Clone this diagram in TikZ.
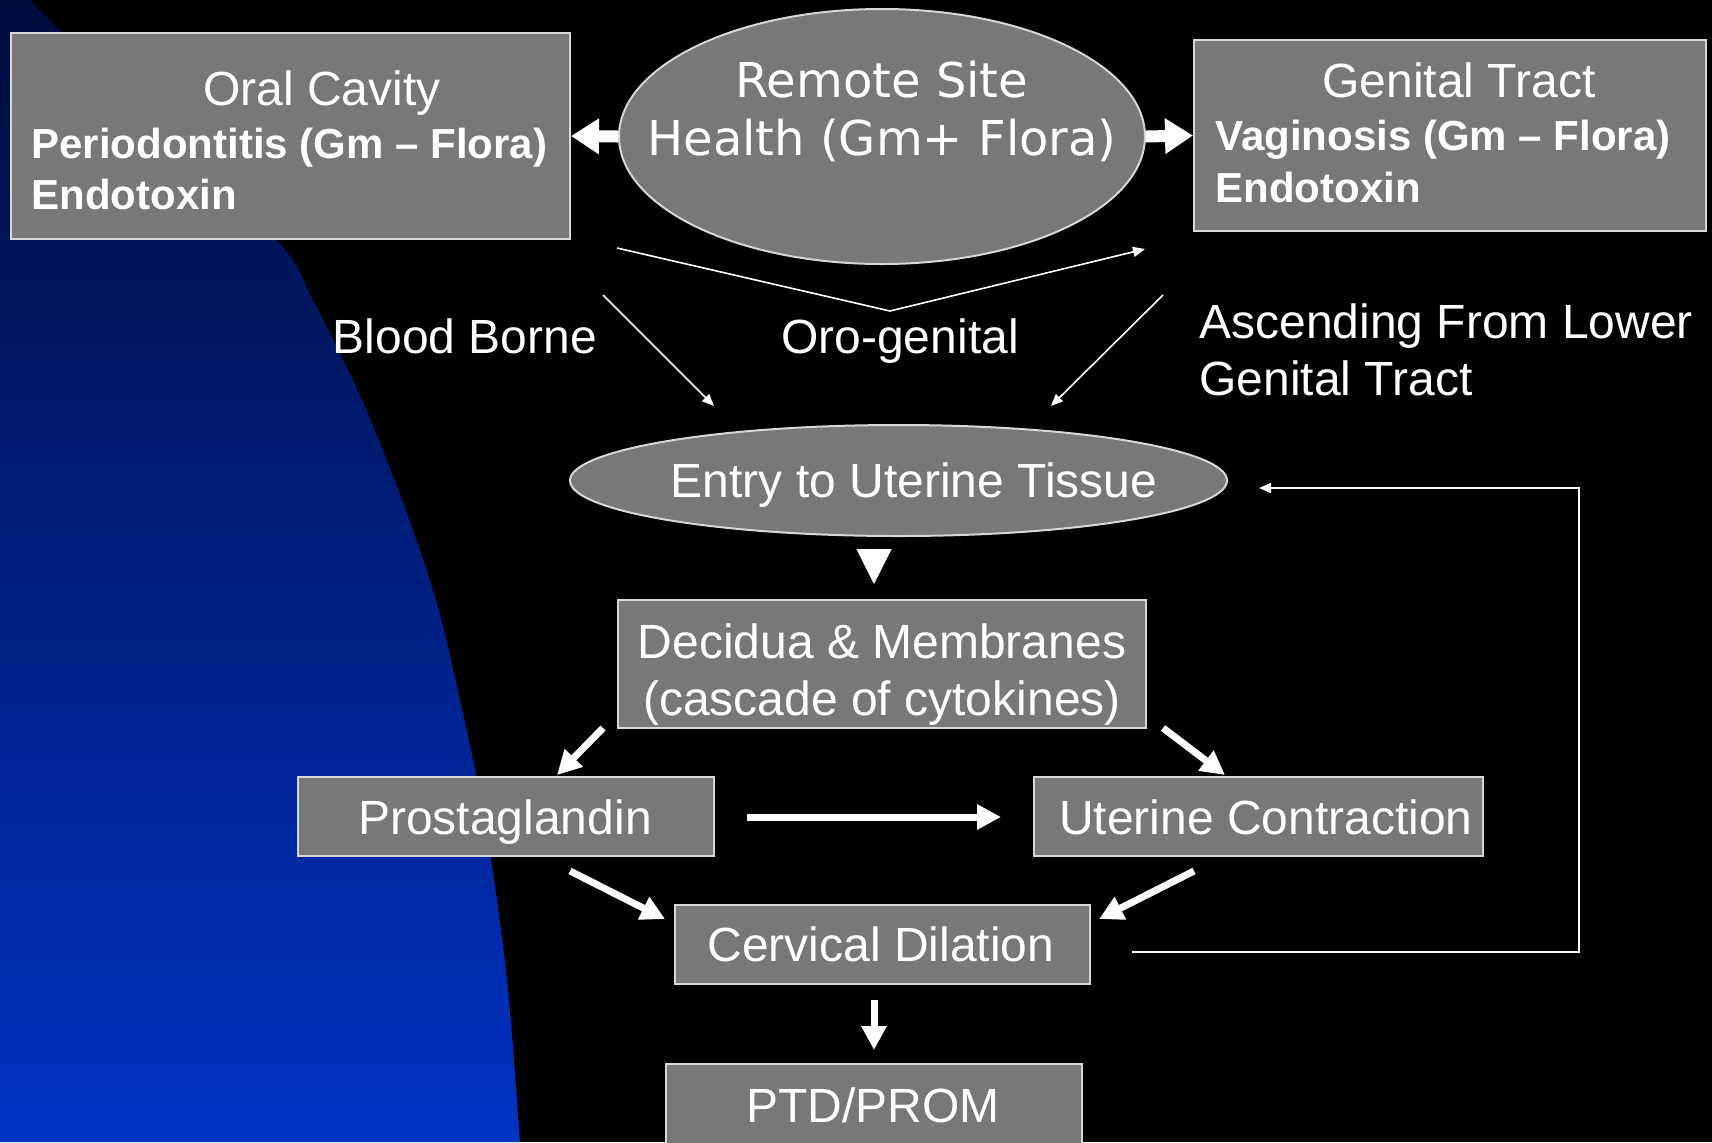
\documentclass[tikz,border=0pt]{standalone}
\usepackage{fontspec}
\setmainfont{Liberation Sans}
\newfontfamily\remfont{DejaVu Sans}
\usetikzlibrary{arrows.meta,shapes.geometric}
\definecolor{boxgray}{RGB}{120,120,120}
\definecolor{edgegray}{RGB}{215,215,215}
\definecolor{navytop}{RGB}{0,12,60}
\definecolor{bluebot}{RGB}{0,50,196}
\begin{document}
\begin{tikzpicture}[x=0.5pt,y=-0.5pt,
  box/.style={draw=edgegray, line width=1pt, fill=boxgray, inner sep=0pt, rectangle},
  oval/.style={ellipse, draw=edgegray, line width=1pt, fill=boxgray, inner sep=0pt},
  txt/.style={text=white, inner sep=0pt, anchor=base, font=\fontsize{24}{28}\selectfont},
  btxt/.style={text=white, inner sep=0pt, anchor=base west, font=\fontsize{21}{25}\selectfont\bfseries},
  rtxt/.style={text=white, inner sep=0pt, anchor=base, font=\remfont\fontsize{24}{28}\selectfont},
  bigarrow/.style={draw=white, line width=6pt, -{Triangle[width=17pt,length=14pt]}},
  midarrow/.style={draw=white, line width=3.5pt, -{Triangle[width=12pt,length=12pt]}},
  tiparrow/.style={draw=white, fill=white, line width=0.5pt, -{Triangle[width=17.5pt,length=17.5pt]}},
  thinarrow/.style={draw=white, line width=0.8pt, -{Triangle[width=5pt,length=6pt]}},
  thinline/.style={draw=white, line width=0.8pt}]
\useasboundingbox (0,0) rectangle (1712,1142);
% background
\fill[black] (0,0) rectangle (1712,1142);
\shade[top color=navytop, bottom color=bluebot] (0,0) -- plot[smooth, tension=0.6] coordinates {(30,0) (60,30) (150,112) (277,240) (313,300) (362,400) (402,500) (436,600) (460,700) (481,800) (497,900) (509,1000) (520,1142)} -- (0,1142) -- cycle;

% shapes
\node[box, minimum width=279.5pt, minimum height=103pt] (oral) at (290.5,136) {};
\node[oval, minimum width=263pt, minimum height=127.5pt] (remote) at (882,136.5) {};
\node[box, minimum width=256pt, minimum height=95.5pt] (genital) at (1450,135.5) {};
\node[oval, minimum width=328.5pt, minimum height=55.5pt] (entry) at (898.5,480.5) {};
\node[box, minimum width=264pt, minimum height=64pt] (decidua) at (882,664) {};
\node[box, minimum width=208pt, minimum height=39.5pt] (prost) at (506,816.5) {};
\node[box, minimum width=224.5pt, minimum height=39.5pt] (uterine) at (1258.5,816.5) {};
\node[box, minimum width=207.5pt, minimum height=39.5pt] (cervical) at (882.5,944.5) {};
\node[box, minimum width=208pt, minimum height=48pt] (ptd) at (874,1112) {};

% texts
\node[txt] (toral) at (322,105) {Oral Cavity};
\node[btxt] (tperio) at (31,158) {Periodontitis (Gm – Flora)};
\node[btxt] (tendo1) at (31,209) {Endotoxin};
\node[rtxt] (trem1) at (882,97) {Remote Site};
\node[rtxt] (trem2) at (882,155) {Health (Gm+ Flora)};
\node[txt] (tgen) at (1459,97) {Genital Tract};
\node[btxt] (tvag) at (1215,150) {Vaginosis (Gm – Flora)};
\node[btxt] (tendo2) at (1215,202) {Endotoxin};
\node[txt] (tblood) at (465,353) {Blood Borne};
\node[txt] (toro) at (900,353) {Oro-genital};
\node[txt, anchor=base west] (tasc1) at (1199,338) {Ascending From Lower};
\node[txt, anchor=base west] (tasc2) at (1199,395) {Genital Tract};
\node[txt] (tentry) at (914,497) {Entry to Uterine Tissue};
\node[txt] (tdec1) at (882,658) {Decidua \& Membranes};
\node[txt] (tdec2) at (882,715) {(cascade of cytokines)};
\node[txt] (tpro) at (505,834) {Prostaglandin};
\node[txt] (tute) at (1266,834) {Uterine Contraction};
\node[txt] (tcer) at (881,961) {Cervical Dilation};
\node[txt] (tptd) at (873,1122) {PTD/PROM};

% connector end points
\coordinate (og1) at (617,248);
\coordinate (og2) at (890,311);
\coordinate (og3) at (1145,249);
\coordinate (bb1) at (603,295);
\coordinate (bb2) at (714,406);
\coordinate (as1) at (1163,295);
\coordinate (as2) at (1051,406);
\coordinate (t1) at (874,549);
\coordinate (t2) at (874,584);
\coordinate (dp1) at (603,728);
\coordinate (dp2) at (557,775);
\coordinate (du1) at (1163,728);
\coordinate (du2) at (1225,775);
\coordinate (pu1) at (747,817);
\coordinate (pu2) at (1001,817);
\coordinate (pc1) at (570,871);
\coordinate (pc2) at (665,919);
\coordinate (uc1) at (1194,871);
\coordinate (uc2) at (1099,919);
\coordinate (cp1) at (874,1000);
\coordinate (cp2) at (874,1050);
\coordinate (fb1) at (1132,952);
\coordinate (fb2) at (1579,952);
\coordinate (fb3) at (1579,488);
\coordinate (fb4) at (1259,488);

% connectors
\draw[bigarrow] (remote.west) -- (oral.east);
\draw[bigarrow] (remote.east) -- (genital.west);
\draw[thinarrow] (og1) -- (og2) -- (og3);
\draw[thinarrow] (bb1) -- (bb2);
\draw[thinarrow] (as1) -- (as2);
\draw[tiparrow] (t1) -- (t2);
\draw[midarrow] (dp1) -- (dp2);
\draw[midarrow] (du1) -- (du2);
\draw[midarrow] (pu1) -- (pu2);
\draw[midarrow] (pc1) -- (pc2);
\draw[midarrow] (uc1) -- (uc2);
\draw[midarrow] (cp1) -- (cp2);
\draw[thinarrow] (fb1) -- (fb2) -- (fb3) -- (fb4);
\end{tikzpicture}
\end{document}
